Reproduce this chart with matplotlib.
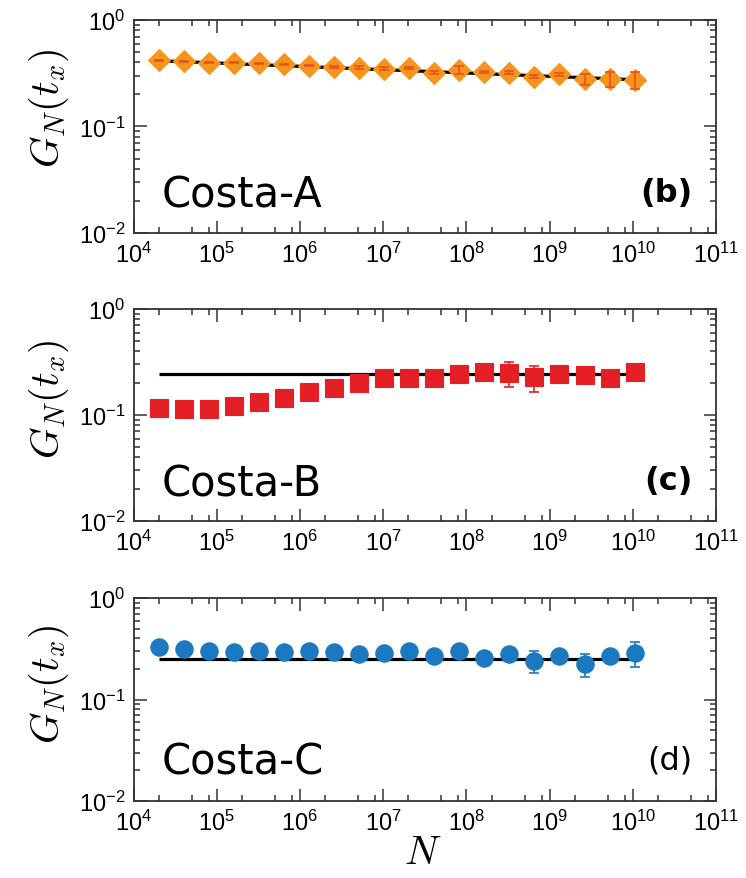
import numpy as np
import matplotlib
matplotlib.use("Agg")
import matplotlib.pyplot as plt
from matplotlib.ticker import LogLocator, FuncFormatter, NullFormatter

# System sizes N (doubling from 2x10^4)
N = [2.0e4, 4.0e4, 8.0e4, 1.6e5, 3.2e5, 6.4e5, 1.28e6, 2.56e6, 5.12e6,
     1.024e7, 2.048e7, 4.096e7, 8.192e7, 1.6384e8, 3.2768e8, 6.5536e8,
     1.31072e9, 2.62144e9, 5.24288e9, 1.048576e10]

# Costa-A
g_a = [0.419, 0.408, 0.399, 0.399, 0.391, 0.385, 0.371, 0.362, 0.358, 0.350,
       0.355, 0.321, 0.338, 0.325, 0.321, 0.294, 0.309, 0.278, 0.278, 0.273]
err_a = [0.005, 0.005, 0.005, 0.005, 0.005, 0.005, 0.005, 0.005, 0.010, 0.010,
         0.010, 0.012, 0.030, 0.010, 0.008, 0.010, 0.010, 0.034, 0.045, 0.050]
fit_a = [0.415, 0.275]

# Costa-B
g_b = [0.116, 0.114, 0.114, 0.121, 0.132, 0.146, 0.164, 0.181, 0.200, 0.222,
       0.223, 0.223, 0.244, 0.256, 0.251, 0.227, 0.244, 0.238, 0.223, 0.253]
err_b = [0.004, 0.004, 0.004, 0.004, 0.005, 0.005, 0.006, 0.006, 0.008, 0.010,
         0.010, 0.010, 0.012, 0.015, 0.068, 0.063, 0.015, 0.015, 0.015, 0.015]
fit_b = [0.245, 0.245]

# Costa-C
g_c = [0.327, 0.315, 0.303, 0.296, 0.298, 0.292, 0.298, 0.292, 0.281, 0.287,
       0.298, 0.270, 0.303, 0.256, 0.281, 0.241, 0.267, 0.224, 0.267, 0.287]
err_c = [0.005, 0.005, 0.005, 0.005, 0.005, 0.005, 0.005, 0.006, 0.006, 0.008,
         0.008, 0.010, 0.020, 0.012, 0.030, 0.060, 0.015, 0.057, 0.015, 0.080]
fit_c = [0.25, 0.25]

names = ["Costa-A", "Costa-B", "Costa-C"]
tags = ["(b)", "(c)", "(d)"]

plt.rcParams['font.family'] = ['Liberation Sans', 'DejaVu Sans']
plt.rcParams['mathtext.fontset'] = 'cm'

fig = plt.figure(figsize=(7.46, 8.79), dpi=100)

rects = [(0.179, 0.7338, 0.781, 0.2423),
         (0.179, 0.4061, 0.781, 0.2412),
         (0.179, 0.0876, 0.781, 0.2309)]

panels = [
    dict(g=g_a, err=err_a, fit=fit_a, marker='D', ms=11, color='#F7941E',
         ecolor='#E5531E', name_y=0.18, tag_y=0.19, tag_w='bold'),
    dict(g=g_b, err=err_b, fit=fit_b, marker='s', ms=13.5, color='#E41F26',
         ecolor='#E41F26', name_y=0.175, tag_y=0.19, tag_w='semibold'),
    dict(g=g_c, err=err_c, fit=fit_c, marker='o', ms=12.5, color='#1B79C2',
         ecolor='#1B79C2', name_y=0.197, tag_y=0.2, tag_w='normal'),
]

ylabel_y = [0.877, 0.546, 0.222]

def dec_label(v, pos):
    return r'$\mathregular{10^{%d}}$' % int(round(np.log10(v)))

for i, (rect, p) in enumerate(zip(rects, panels)):
    ax = fig.add_axes(rect)
    ax.set_xscale('log')
    ax.set_yscale('log')

    ax.plot([N[0], N[-1]], p['fit'], color='black', lw=2.3, zorder=2,
            solid_capstyle='butt')
    ax.plot(N, p['g'], ls='none', marker=p['marker'], ms=p['ms'],
            mfc=p['color'], mec=p['color'], mew=0.8, zorder=3)
    ax.errorbar(N, p['g'], yerr=p['err'], fmt='none', ecolor=p['ecolor'],
                elinewidth=1.2, capsize=3.5, capthick=1.2, zorder=4)

    ax.set_xlim(1e4, 1e11)
    ax.set_ylim(1e-2, 1e0)

    ax.xaxis.set_major_locator(LogLocator(base=10, numticks=20))
    ax.xaxis.set_minor_locator(LogLocator(base=10, subs=(2, 5, 8), numticks=20))
    ax.yaxis.set_major_locator(LogLocator(base=10, numticks=10))
    ax.yaxis.set_minor_locator(LogLocator(base=10, subs=np.arange(2, 10), numticks=10))
    ax.xaxis.set_major_formatter(FuncFormatter(dec_label))
    ax.yaxis.set_major_formatter(FuncFormatter(dec_label))
    ax.xaxis.set_minor_formatter(NullFormatter())
    ax.yaxis.set_minor_formatter(NullFormatter())

    ax.tick_params(which='both', direction='in', top=True, right=True,
                   labelsize=17, width=1.1, color='#333333', pad=6)
    ax.tick_params(which='major', length=9)
    ax.tick_params(which='minor', length=4.5)
    for s in ax.spines.values():
        s.set_linewidth(1.3)
        s.set_color('#333333')

    ax.text(0.049, p['name_y'], names[i], transform=ax.transAxes,
            fontsize=30, family=['DejaVu Sans'], ha='left', va='center')
    ax.text(0.96, p['tag_y'], tags[i], transform=ax.transAxes,
            fontsize=23, family=['DejaVu Sans'], fontweight=p['tag_w'],
            ha='right', va='center')

    fig.text(0.065, ylabel_y[i], r'$G_N(t_x)$', rotation=90, fontsize=29,
             ha='center', va='center')

fig.text(0.567, 0.03, r'$N$', fontsize=29, ha='center', va='center')

fig.savefig('out.png', dpi=100)
